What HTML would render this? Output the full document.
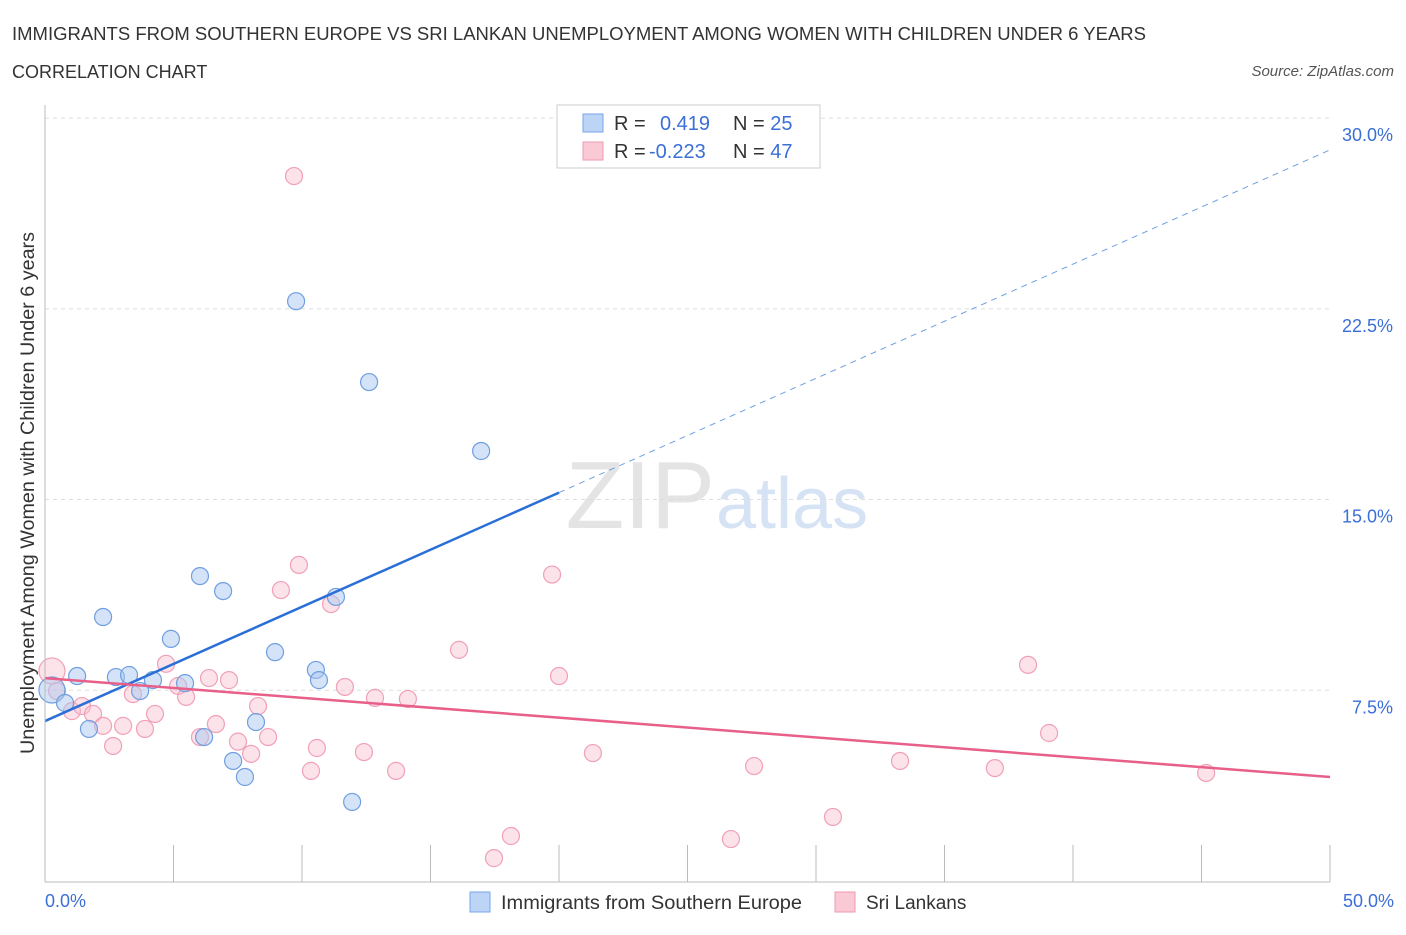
<!DOCTYPE html>
<html><head><meta charset="utf-8"><style>
body{margin:0;background:#fff;font-family:"Liberation Sans",sans-serif;}
svg text{font-family:"Liberation Sans",sans-serif;}
</style></head><body>
<svg id="chart" width="1406" height="930">
<text x="12" y="40" font-size="18" fill="#333" textLength="1134" lengthAdjust="spacingAndGlyphs">IMMIGRANTS FROM SOUTHERN EUROPE VS SRI LANKAN UNEMPLOYMENT AMONG WOMEN WITH CHILDREN UNDER 6 YEARS</text>
<text x="12" y="78" font-size="18" fill="#333">CORRELATION CHART</text>
<text x="1394" y="76" font-size="15" fill="#555" font-style="italic" text-anchor="end">Source: ZipAtlas.com</text>
<text x="715" y="528" font-size="96" fill="#e4e4e4" font-family="Liberation Serif" text-anchor="end">ZIP</text>
<text x="716" y="528" font-size="72" fill="#d6e3f5">atlas</text>
<text transform="translate(34,493) rotate(-90)" font-size="19" fill="#333" text-anchor="middle" textLength="522" lengthAdjust="spacingAndGlyphs">Unemployment Among Women with Children Under 6 years</text>
<g id="grid"></g><g id="marks"></g>
<line x1="45" y1="105" x2="45" y2="882" stroke="#bbb"/>
<line x1="45" y1="882" x2="1330" y2="882" stroke="#bbb"/>
<text x="45" y="907" font-size="18" fill="#3b6fd6" text-anchor="start">0.0%</text>
<text x="1394" y="907" font-size="18" fill="#3b6fd6" text-anchor="end">50.0%</text>
<rect x="557" y="105" width="263" height="63" fill="#fff" stroke="#ccc"/>
<rect x="583" y="114" width="20" height="18" fill="#bcd4f5" stroke="#7aa5e8"/>
<rect x="583" y="142" width="20" height="18" fill="#f9c9d6" stroke="#ee9ab2"/>
<text x="614" y="130" font-size="20" fill="#333">R = <tspan x="660" fill="#3b6fd6">0.419</tspan><tspan x="733" fill="#333">N = </tspan><tspan fill="#3b6fd6">25</tspan></text>
<text x="614" y="158" font-size="20" fill="#333">R = <tspan x="649" fill="#3b6fd6">-0.223</tspan><tspan x="733" fill="#333">N = </tspan><tspan fill="#3b6fd6">47</tspan></text>
<rect x="470" y="892" width="20" height="20" fill="#bcd4f5" stroke="#7aa5e8"/>
<text x="501" y="909" font-size="19" fill="#333" textLength="301" lengthAdjust="spacingAndGlyphs">Immigrants from Southern Europe</text>
<rect x="835" y="892" width="20" height="20" fill="#f9c9d6" stroke="#ee9ab2"/>
<text x="866" y="909" font-size="19" fill="#333">Sri Lankans</text>
</svg>
<script>
const yTicks=[7.5,15,22.5,30];
const xTicks=[0,5,10,15,20,25,30,35,40,45,50];
const blueX=[0.27,0.78,1.25,1.71,2.26,2.76,3.27,3.70,4.20,4.90,5.45,6.03,6.19,6.93,7.32,7.78,8.21,8.95,9.77,10.54,10.66,11.32,11.95,12.61,16.97];
const blueY=[7.51,7.00,8.06,5.98,10.38,8.02,8.10,7.47,7.90,9.52,7.78,11.99,5.66,11.40,4.72,4.09,6.25,9.00,22.80,8.30,7.90,11.17,3.11,19.62,16.91];
const blueSize=[13,8.5,8.5,8.5,8.5,8.5,8.5,8.5,8.5,8.5,8.5,8.5,8.5,8.5,8.5,8.5,8.5,8.5,8.5,8.5,8.5,8.5,8.5,8.5,8.5];
const pinkX=[0.27,0.47,1.05,1.44,1.87,2.26,2.65,3.04,3.42,3.89,4.28,4.71,5.18,5.49,6.03,6.38,6.65,7.16,7.51,8.02,8.29,8.68,9.18,9.69,9.88,10.35,10.58,11.13,11.67,12.41,12.84,13.66,14.12,16.11,17.47,18.13,19.73,20.00,21.32,26.69,27.59,30.66,33.27,36.96,38.25,39.07,45.18];
const pinkY=[8.26,7.47,6.68,6.88,6.57,6.10,5.31,6.10,7.35,5.98,6.57,8.54,7.67,7.24,5.66,7.98,6.17,7.90,5.48,5.00,6.88,5.66,11.44,27.72,12.43,4.33,5.23,10.89,7.63,5.07,7.20,4.33,7.16,9.09,0.90,1.77,12.05,8.06,5.03,1.65,4.52,2.52,4.72,4.44,8.50,5.82,4.25];
const pinkSize=[13,8.5,8.5,8.5,8.5,8.5,8.5,8.5,8.5,8.5,8.5,8.5,8.5,8.5,8.5,8.5,8.5,8.5,8.5,8.5,8.5,8.5,8.5,8.5,8.5,8.5,8.5,8.5,8.5,8.5,8.5,8.5,8.5,8.5,8.5,8.5,8.5,8.5,8.5,8.5,8.5,8.5,8.5,8.5,8.5,8.5,8.5];
const blueTrend=[6.29,28.75];
const pinkTrend=[7.98,4.09];
const NS='http://www.w3.org/2000/svg';
const X=v=>45+v*25.7, Y=v=>881-v*25.43;
const grid=document.getElementById('grid'), marks=document.getElementById('marks');
function mk(tag,attrs,parent){const e=document.createElementNS(NS,tag);for(const k in attrs)e.setAttribute(k,attrs[k]);parent.appendChild(e);return e;}
yTicks.forEach(t=>{
 const l=mk('line',{x1:45,x2:1330,y1:Y(t),y2:Y(t),stroke:'#ddd','stroke-dasharray':'4,4'},grid);
 
 
 const tx=mk('text',{x:1393,y:Y(t)+23,'font-size':18,fill:'#3b6fd6','text-anchor':'end'},grid);
 tx.textContent=t.toFixed(1)+'%';
 
 
});
xTicks.forEach(t=>{
 const l=mk('line',{x1:X(t),x2:X(t),y1:845,y2:882,stroke:'#bbb'},grid);
 
 
});
function dots(xs,ys,ss,fill,stroke,name){xs.forEach((x,i)=>{
 const c=mk('circle',{cx:X(x),cy:Y(ys[i]),r:ss[i],fill:fill,stroke:stroke,'stroke-width':1.2},marks);
 
 
});}
dots(pinkX,pinkY,pinkSize,'rgba(248,190,206,0.45)','#f0a0b8','sri-lankan-point');
dots(blueX,blueY,blueSize,'rgba(170,200,240,0.5)','#6f9fe0','southern-europe-point');
const bAt=x=>blueTrend[0]+(blueTrend[1]-blueTrend[0])*x/50;
let l1=mk('line',{x1:X(0),y1:Y(bAt(0)),x2:X(20),y2:Y(bAt(20)),stroke:'#2a6fd8','stroke-width':2.5},marks);


let l2=mk('line',{x1:X(20),y1:Y(bAt(20)),x2:X(50),y2:Y(bAt(50)),stroke:'#6f9fe0','stroke-width':1,'stroke-dasharray':'6,5'},marks);


let l3=mk('line',{x1:X(0),y1:Y(pinkTrend[0]),x2:X(50),y2:Y(pinkTrend[1]),stroke:'#e8608a','stroke-width':2.5},marks);


</script>
</body></html>
